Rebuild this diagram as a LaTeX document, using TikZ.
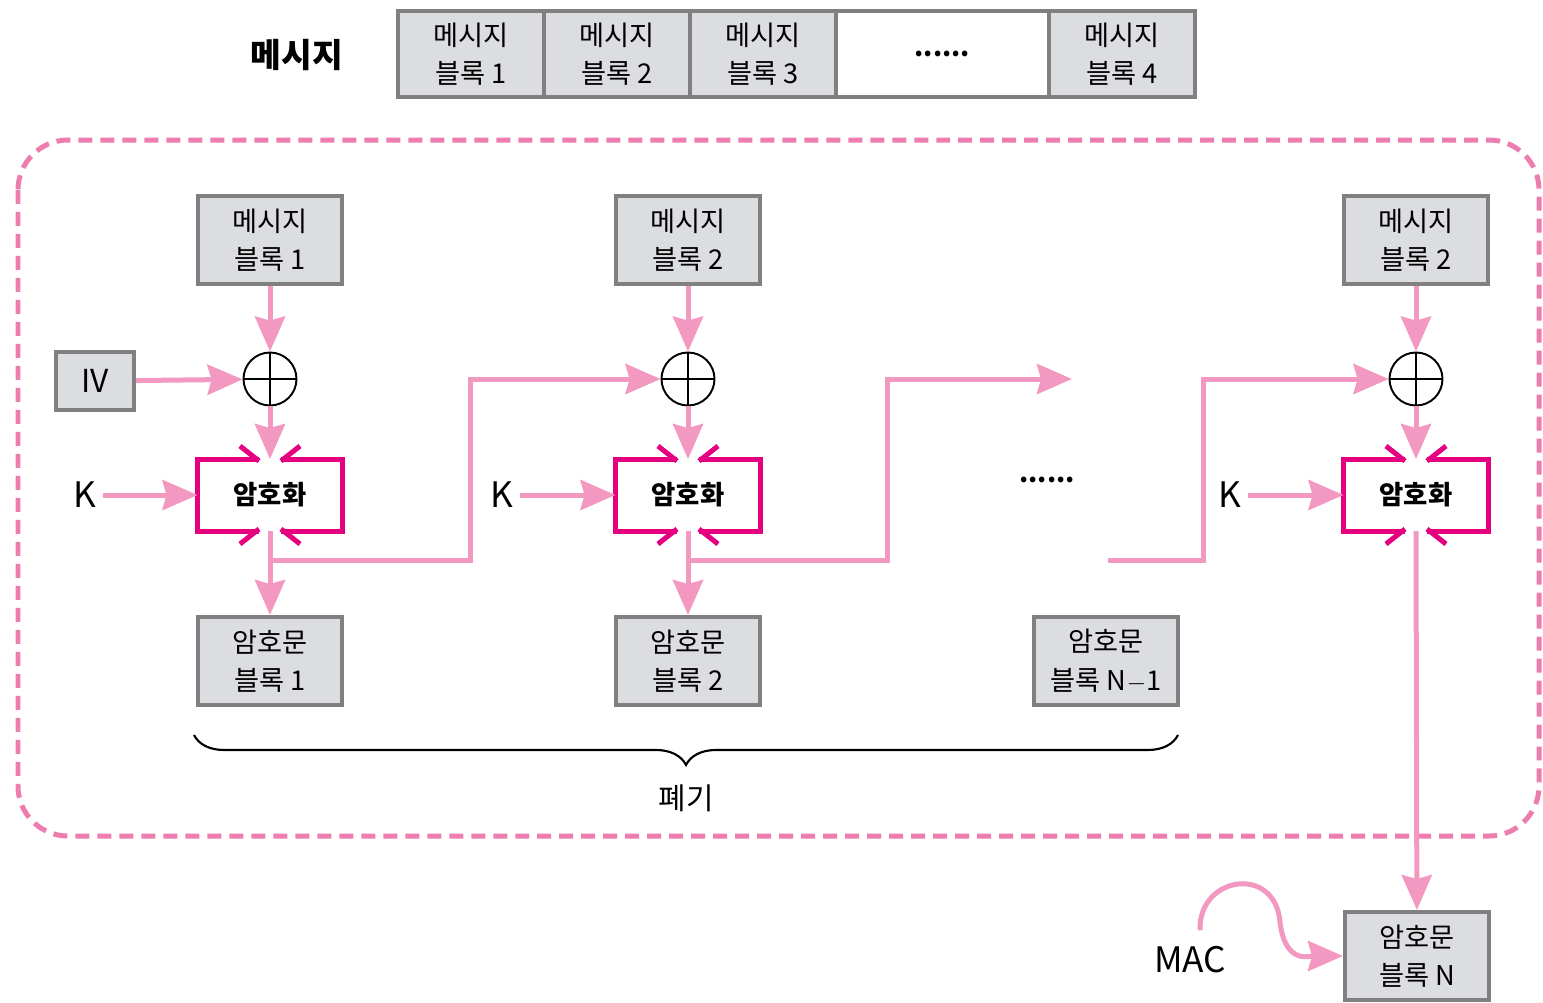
\documentclass[tikz,border=0pt]{standalone}
\usepackage{fontspec}
\setmainfont{Noto Sans CJK KR}
\usepackage{xcolor}
\usetikzlibrary{arrows.meta,positioning,decorations.pathreplacing}

\definecolor{flowpink}{RGB}{243,152,192}
\definecolor{dashpink}{RGB}{238,125,175}
\definecolor{encmagenta}{RGB}{228,0,127}
\definecolor{blockgray}{RGB}{220,221,224}
\definecolor{blockedge}{RGB}{128,128,128}

% open frame of an encryption box with the four barbs
\newcommand{\encframe}[1]{%
  \draw[encline] ([xshift=-0.22cm]#1.north) -- (#1.north west) -- (#1.south west) -- ([xshift=-0.22cm]#1.south);
  \draw[encline] ([xshift=0.22cm]#1.north) -- (#1.north east) -- (#1.south east) -- ([xshift=0.22cm]#1.south);
  \draw[encline] ([xshift=-0.6cm,yshift=0.26cm]#1.north) -- ([xshift=-0.22cm,yshift=-0.04cm]#1.north);
  \draw[encline] ([xshift=0.6cm,yshift=0.26cm]#1.north) -- ([xshift=0.22cm,yshift=-0.04cm]#1.north);
  \draw[encline] ([xshift=-0.6cm,yshift=-0.26cm]#1.south) -- ([xshift=-0.22cm,yshift=0.04cm]#1.south);
  \draw[encline] ([xshift=0.6cm,yshift=-0.26cm]#1.south) -- ([xshift=0.22cm,yshift=0.04cm]#1.south);
}
% plus sign inside an XOR circle
\newcommand{\xorcross}[1]{%
  \draw[xorline] (#1.north) -- (#1.south) (#1.west) -- (#1.east);
}

\begin{document}
\begin{tikzpicture}[
  x=0.02cm, y=-0.02cm,
  block/.style={draw=blockedge, fill=blockgray, line width=0.08cm, align=center,
    inner sep=0pt, minimum width=2.88cm, minimum height=1.76cm,
    font=\fontsize{15.5}{22}\selectfont},
  cell/.style={block, minimum width=2.92cm, minimum height=1.72cm},
  encbox/.style={inner sep=0pt, outer sep=0pt, minimum width=2.9cm, minimum height=1.44cm,
    font=\fontsize{15}{18}\selectfont\bfseries},
  encline/.style={draw=encmagenta, line width=0.1cm},
  xor/.style={circle, draw=black, line width=1.1pt, minimum size=1.06cm, inner sep=0pt},
  xorline/.style={black, line width=1.1pt},
  lbl/.style={font=\fontsize{20}{24}\selectfont},
  flow/.style={draw=flowpink, line width=0.1cm, -{Stealth[length=0.7cm,width=0.6cm,inset=0.08cm]}},
  flowline/.style={draw=flowpink, line width=0.1cm},
  dashbox/.style={draw=dashpink, line width=0.1cm, dash pattern=on 0.28cm off 0.16cm, rounded corners=1cm},
]

\useasboundingbox (0,0) rectangle (1543,1002);

% message bar at top
\node[font=\fontsize{19}{22}\selectfont\bfseries] (title) at (297,55) {메시지};
\node[cell] (m1) at (471,54) {메시지\\블록 1};
\node[cell, right=-0.08cm of m1] (m2) {메시지\\블록 2};
\node[cell, right=-0.08cm of m2] (m3) {메시지\\블록 3};
\node[cell, fill=white, minimum width=4.26cm, right=-0.08cm of m3, font=\fontsize{15}{22}\selectfont\bfseries] (m4) {......};
\node[cell, right=-0.08cm of m4] (m5) {메시지\\블록 4};

\draw[dashbox] (18,140) rectangle (1539,836);

% first stage
\node[block] (p1) at (270,240) {메시지\\블록 1};
\node[block, minimum width=1.56cm, minimum height=1.16cm, font=\fontsize{18}{22}\selectfont] (iv) at (95,381) {IV};
\node[xor] (x1) at (270,379) {};
\node[encbox] (e1) at (270,495) {암호화};
\node[lbl] (k1) at (85,495) {K};
\node[block] (c1) at (270,661) {암호문\\블록 1};

% second stage
\node[block] (p2) at (688,240) {메시지\\블록 2};
\node[xor] (x2) at (688,379) {};
\node[encbox] (e2) at (688,495) {암호화};
\node[lbl] (k2) at (502,495) {K};
\node[block] (c2) at (688,661) {암호문\\블록 2};

% middle gap
\node[font=\fontsize{15}{18}\selectfont\bfseries] (gap) at (1047,480) {......};
\node[block] (c3) at (1106,661) {암호문\\블록 N$-$1};

% last stage
\node[block] (p3) at (1416,240) {메시지\\블록 2};
\node[xor] (x3) at (1416,379) {};
\node[encbox] (e3) at (1416,495) {암호화};
\node[lbl] (k3) at (1230,495) {K};
\node[block] (c4) at (1417,956) {암호문\\블록 N};
\node[lbl] (mac) at (1190,960) {MAC};

\xorcross{x1}
\xorcross{x2}
\xorcross{x3}
\encframe{e1}
\encframe{e2}
\encframe{e3}

\coordinate (b1) at (270,560);
\coordinate (t1) at (470,560);
\coordinate (b2) at (688,560);
\coordinate (t2) at (887,560);
\coordinate (d1) at (1072,379);
\coordinate (s3) at (1108,560);
\coordinate (t3) at (1203,560);

\draw[flow] (p1) -- (x1);
\draw[flow] (iv) -- (x1);
\draw[flow] (x1) -- (e1.north);
\draw[flow] (k1) -- (e1);
\draw[flow] (e1.south) -- (c1);
\draw[flow] (b1) -- (t1) |- (x2.west);

\draw[flow] (p2) -- (x2);
\draw[flow] (x2) -- (e2.north);
\draw[flow] (k2) -- (e2);
\draw[flow] (e2.south) -- (c2);
\draw[flow] (b2) -- (t2) |- (d1);

\draw[flow] (s3) -- (t3) |- (x3.west);
\draw[flow] (p3) -- (x3);
\draw[flow] (x3) -- (e3.north);
\draw[flow] (k3) -- (e3);
\draw[flow] (e3.south) -- (c4);

\draw[flow] ([xshift=0.2cm,yshift=0.2cm]mac.north) .. controls (1198,876) and (1275,864) .. (1280,922)
  .. controls (1285,965) and (1310,956) .. (c4.west);

% discarded blocks
\draw[decorate, decoration={brace, mirror, amplitude=0.6cm}, line width=1.2pt]
  ([xshift=-0.04cm,yshift=-0.56cm]c1.south west) -- ([xshift=-0.04cm,yshift=-0.56cm]c3.south east)
  node[midway, below=0.85cm, font=\fontsize{17}{20}\selectfont] (drop) {폐기};

\end{tikzpicture}
\end{document}
